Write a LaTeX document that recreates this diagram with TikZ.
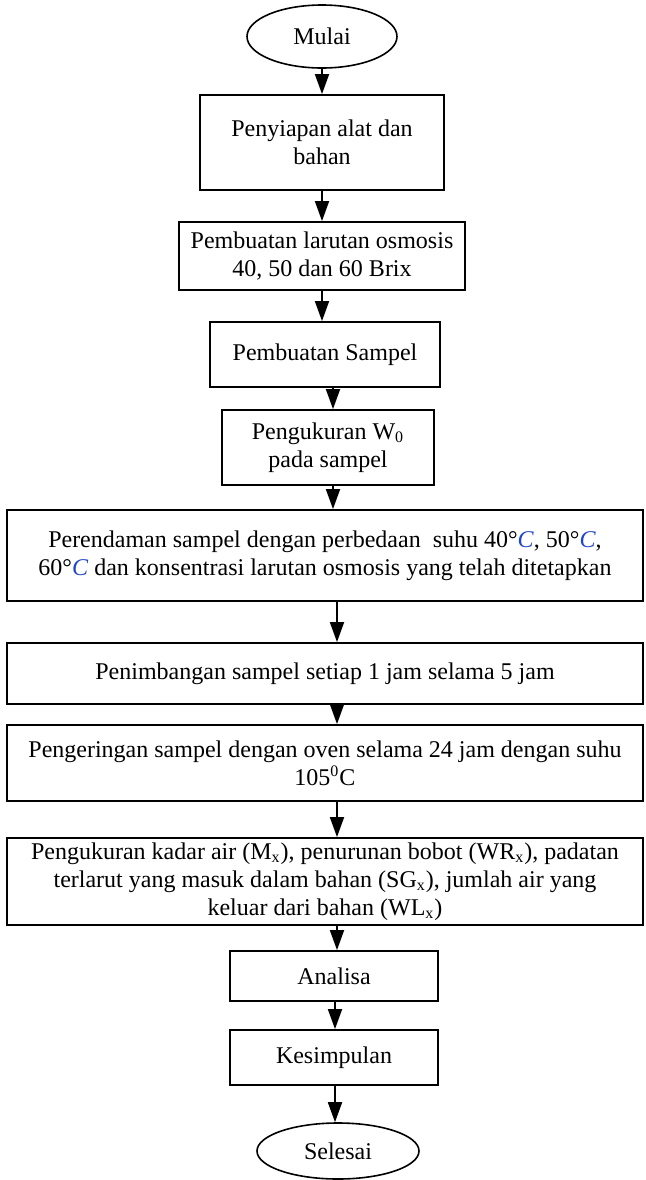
\documentclass[tikz,border=0pt]{standalone}
\usepackage{fontspec}
\setmainfont{Liberation Serif}
\usetikzlibrary{arrows.meta,shapes.geometric}
\definecolor{cblue}{RGB}{30,70,200}
\newcommand{\degC}{°\textcolor{cblue}{\textit{C}}}
\begin{document}
\begin{tikzpicture}[x=0.5pt,y=-0.5pt,
  every node/.style={font=\fontsize{12}{14}\selectfont, align=center, inner sep=0pt},
  box/.style={draw, line width=0.9pt, rectangle},
  term/.style={draw, line width=0.8pt, ellipse},
  arr/.style={line width=0.9pt, -{Triangle[width=7pt,length=10pt]}}]
\useasboundingbox (0,0) rectangle (645,1180);
\node[term, minimum width=75pt, minimum height=31.5pt] (start) at (322,36.5) {Mulai};
\node[box, minimum width=122pt, minimum height=47.5pt] (b1) at (322,142.5) {Penyiapan alat dan\\bahan};
\node[box, minimum width=143pt, minimum height=34pt] (b2) at (322,256) {Pembuatan larutan osmosis\\40, 50 dan 60 Brix};
\node[box, minimum width=115pt, minimum height=32.5pt] (b3) at (325,354.5) {Pembuatan Sampel};
\node[box, minimum width=106pt, minimum height=37.5pt] (b4) at (328,447.5) {Pengukuran W\textsubscript{0}\\pada sampel};
\node[box, minimum width=318pt, minimum height=45.5pt] (b5) at (325,555.5) {Perendaman sampel dengan perbedaan\ \ suhu 40\degC, 50\degC,\\60\degC\ dan konsentrasi larutan osmosis yang telah ditetapkan};
\node[box, minimum width=318pt, minimum height=30.5pt] (b6) at (325,673.5) {Penimbangan sampel setiap 1 jam selama 5 jam};
\node[box, minimum width=318pt, minimum height=38pt] (b7) at (325,763) {Pengeringan sampel dengan oven selama 24 jam dengan suhu\\105\textsuperscript{0}C};
\node[box, minimum width=318pt, minimum height=43.5pt] (b8) at (325,881.5) {Pengukuran kadar air (M\textsubscript{x}), penurunan bobot (WR\textsubscript{x}), padatan\\terlarut yang masuk dalam bahan (SG\textsubscript{x}), jumlah air yang\\keluar dari bahan (WL\textsubscript{x})};
\node[box, minimum width=104pt, minimum height=25pt] (b9) at (334,976) {Analisa};
\node[box, minimum width=104pt, minimum height=27.5pt] (b10) at (334,1057.5) {Kesimpulan};
\node[term, minimum width=81pt, minimum height=28pt] (end) at (338,1151) {Selesai};
\draw[arr] (start.south -| 322,0) -- (b1.north -| 322,0);
\draw[arr] (b1.south -| 322,0) -- (b2.north -| 322,0);
\draw[arr] (b2.south -| 322,0) -- (b3.north -| 322,0);
\draw[arr] (b3.south -| 333,0) -- (b4.north -| 333,0);
\draw[arr] (b4.south -| 333,0) -- (b5.north -| 333,0);
\draw[arr] (b5.south -| 337,0) -- (b6.north -| 337,0);
\draw[arr] (b6.south -| 337,0) -- (b7.north -| 337,0);
\draw[arr] (b7.south -| 337,0) -- (b8.north -| 337,0);
\draw[arr] (b8.south -| 337,0) -- (b9.north -| 337,0);
\draw[arr] (b9.south -| 335,0) -- (b10.north -| 335,0);
\draw[arr] (b10.south -| 335,0) -- (end.north -| 335,0);
\end{tikzpicture}
\end{document}
